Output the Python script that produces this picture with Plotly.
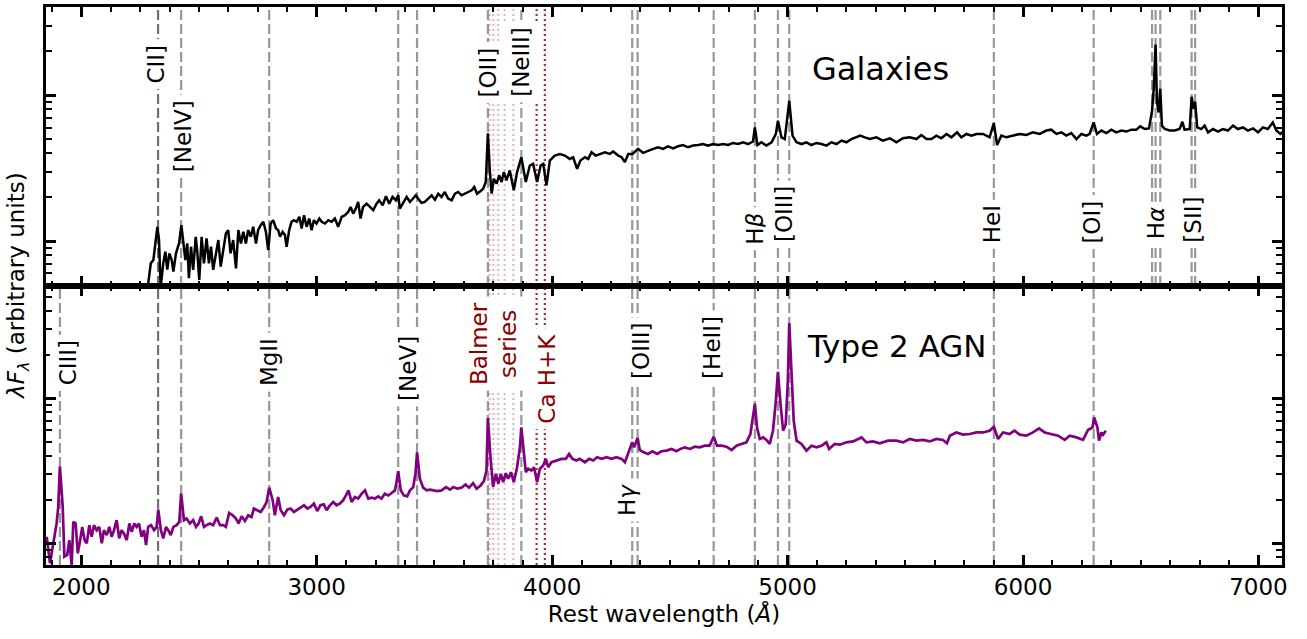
import plotly.graph_objects as go
from plotly.subplots import make_subplots

# ---- composite spectra: rest wavelength (Angstrom) and lambda*F_lambda (arbitrary units) ----
gal_wave = [
    2280, 2295, 2306, 2316, 2323, 2330, 2337, 2348, 2357, 2365,
    2374, 2384, 2391, 2402, 2415, 2425, 2433, 2442, 2450, 2457,
    2466, 2475, 2486, 2492, 2501, 2511, 2521, 2532, 2542, 2551,
    2560, 2572, 2582, 2592, 2603, 2614, 2624, 2634, 2645, 2657,
    2667, 2678, 2688, 2699, 2709, 2720, 2730, 2742, 2751, 2762,
    2773, 2784, 2794, 2804, 2815, 2827, 2836, 2844, 2855, 2865,
    2872, 2883, 2893, 2903, 2915, 2926, 2936, 2946, 2957, 2968,
    2978, 2988, 2999, 3011, 3021, 3035, 3049, 3063, 3077, 3091,
    3106, 3120, 3134, 3144, 3155, 3166, 3176, 3186, 3197, 3212,
    3226, 3240, 3254, 3265, 3280, 3294, 3308, 3322, 3336, 3346,
    3353, 3367, 3382, 3396, 3410, 3421, 3431, 3445, 3459, 3473,
    3488, 3502, 3516, 3530, 3544, 3558, 3573, 3587, 3601, 3615,
    3629, 3643, 3658, 3669, 3681, 3696, 3707, 3718, 3727, 3735,
    3743, 3752, 3764, 3775, 3785, 3795, 3806, 3820, 3837, 3851,
    3869, 3888, 3905, 3919, 3936, 3951, 3962, 3976, 3990, 4011,
    4033, 4054, 4075, 4089, 4106, 4120, 4139, 4153, 4167, 4185,
    4202, 4224, 4245, 4259, 4280, 4295, 4309, 4323, 4341, 4365,
    4386, 4408, 4429, 4450, 4471, 4492, 4514, 4535, 4556, 4577,
    4599, 4620, 4641, 4662, 4684, 4705, 4726, 4747, 4768, 4790,
    4811, 4832, 4853, 4861, 4872, 4889, 4910, 4932, 4950, 4959,
    4974, 4988, 5007, 5021, 5038, 5059, 5080, 5101, 5123, 5144,
    5165, 5186, 5208, 5229, 5250, 5271, 5292, 5309, 5328, 5349,
    5377, 5405, 5434, 5462, 5490, 5519, 5547, 5568, 5590, 5611,
    5632, 5653, 5675, 5696, 5720, 5738, 5760, 5781, 5802, 5830,
    5858, 5876, 5890, 5908, 5929, 5957, 5986, 6014, 6042, 6071,
    6099, 6120, 6142, 6163, 6184, 6205, 6227, 6248, 6269, 6283,
    6300, 6314, 6333, 6354, 6375, 6396, 6418, 6439, 6460, 6481,
    6498, 6517, 6535, 6548, 6555, 6563, 6569, 6576, 6583, 6590,
    6602, 6623, 6644, 6665, 6677, 6686, 6708, 6716, 6725, 6731,
    6740, 6757, 6771, 6786, 6807, 6828, 6849, 6870, 6892, 6913,
    6934, 6955, 6977, 6998, 7019, 7040, 7061, 7076, 7093, 7111,
]
gal_flux = [
    0.45, 0.703, 0.741, 1.070, 1.252, 1.021, 0.48, 0.703, 0.845, 0.637,
    0.823, 0.741, 0.617, 0.823, 0.963, 1.286, 1.016, 0.741, 0.963, 0.556,
    0.914, 0.634, 1.070, 0.868, 0.542, 1.070, 0.703, 1.042, 0.703, 0.914,
    0.634, 0.823, 1.016, 0.668, 0.868, 1.127, 1.189, 0.823, 1.016, 0.650,
    1.189, 0.963, 1.157, 0.963, 1.189, 1.070, 1.252, 0.963, 1.189, 1.286,
    1.355, 1.157, 0.868, 1.319, 1.391, 1.219, 1.189, 1.070, 1.157, 1.099,
    0.914, 1.189, 1.355, 1.391, 1.355, 1.465, 1.219, 1.505, 1.252, 1.427,
    1.189, 1.391, 1.319, 1.427, 1.355, 1.319, 1.391, 1.355, 1.427, 1.252,
    1.465, 1.505, 1.585, 1.714, 1.543, 1.669, 1.854, 1.427, 1.714, 1.806,
    1.714, 1.628, 1.806, 1.905, 1.761, 2.029, 1.806, 2.006, 1.905, 2.061,
    1.669, 1.806, 2.006, 1.854, 1.954, 2.061, 1.954, 1.826, 1.854, 1.954,
    2.061, 1.923, 2.113, 2.006, 2.171, 1.954, 1.905, 2.113, 2.171, 2.061,
    2.113, 2.171, 2.229, 2.348, 2.113, 2.205, 2.286, 2.540, 5.49, 3.05,
    2.113, 2.675, 2.473, 2.82, 2.540, 2.972, 2.608, 3.05, 2.229, 2.972,
    3.76, 2.540, 3.30, 3.39, 2.540, 3.30, 3.39, 2.41, 3.57, 3.86,
    3.96, 3.86, 3.66, 3.76, 3.13, 3.57, 3.76, 3.66, 4.07, 3.86,
    3.96, 4.07, 3.96, 4.12, 3.86, 3.76, 3.48, 3.96, 3.96, 4.29,
    4.03, 4.18, 4.29, 4.40, 4.29, 4.47, 4.33, 4.47, 4.56, 4.40,
    4.52, 4.56, 4.63, 4.52, 4.63, 4.56, 4.63, 4.56, 4.71, 4.63,
    4.76, 4.63, 4.82, 6.03, 4.56, 4.76, 4.52, 4.76, 5.43, 6.70,
    5.15, 5.01, 9.17, 5.29, 4.76, 4.63, 4.76, 4.56, 4.71, 4.63,
    4.52, 4.76, 4.63, 4.89, 4.76, 5.01, 5.15, 5.29, 5.15, 5.01,
    5.15, 4.89, 5.07, 4.76, 5.07, 5.15, 5.01, 5.34, 5.01, 5.01,
    5.29, 5.07, 5.43, 5.15, 5.57, 5.15, 5.43, 5.29, 5.43, 5.43,
    5.15, 6.45, 4.56, 5.29, 5.15, 5.29, 5.43, 5.34, 5.57, 5.43,
    5.73, 5.81, 5.43, 5.57, 5.29, 5.51, 5.01, 5.43, 5.29, 5.43,
    6.52, 5.43, 5.73, 5.51, 5.81, 5.57, 5.73, 5.64, 5.81, 5.81,
    6.12, 5.87, 5.93, 7.84, 11.0, 22.3, 8.93, 7.63, 11.1, 6.19,
    5.87, 5.73, 5.73, 5.87, 6.59, 5.81, 5.87, 9.77, 8.04, 9.03,
    6.03, 5.87, 6.19, 5.57, 5.87, 5.64, 5.87, 5.73, 6.19, 5.87,
    6.03, 5.73, 5.93, 5.57, 6.03, 5.87, 6.52, 5.73, 5.43, 5.75,
]

agn_wave = [
    1853, 1867, 1881, 1895, 1902, 1909, 1921, 1928, 1940, 1949,
    1959, 1966, 1976, 1985, 1994, 2004, 2014, 2023, 2034, 2044,
    2054, 2065, 2076, 2087, 2096, 2108, 2119, 2129, 2139, 2150,
    2161, 2171, 2181, 2193, 2204, 2214, 2225, 2235, 2245, 2256,
    2266, 2275, 2284, 2296, 2309, 2320, 2327, 2338, 2348, 2360,
    2369, 2380, 2391, 2405, 2416, 2424, 2436, 2447, 2461, 2475,
    2487, 2498, 2509, 2521, 2532, 2546, 2560, 2575, 2589, 2603,
    2614, 2628, 2643, 2657, 2668, 2681, 2695, 2709, 2723, 2733,
    2747, 2762, 2776, 2787, 2798, 2813, 2822, 2836, 2847, 2861,
    2875, 2889, 2903, 2917, 2932, 2946, 2960, 2974, 2988, 3002,
    3016, 3030, 3042, 3056, 3070, 3084, 3098, 3112, 3124, 3135,
    3148, 3162, 3176, 3191, 3205, 3219, 3233, 3247, 3261, 3275,
    3289, 3304, 3318, 3332, 3339, 3346, 3357, 3370, 3384, 3396,
    3410, 3420, 3426, 3438, 3452, 3467, 3481, 3495, 3512, 3530,
    3549, 3566, 3580, 3597, 3615, 3632, 3647, 3664, 3679, 3696,
    3710, 3721, 3727, 3738, 3749, 3761, 3771, 3782, 3792, 3803,
    3813, 3825, 3837, 3851, 3863, 3869, 3880, 3888, 3898, 3912,
    3923, 3936, 3948, 3962, 3973, 3983, 3997, 4019, 4040, 4058,
    4072, 4086, 4103, 4117, 4139, 4157, 4174, 4191, 4210, 4231,
    4252, 4273, 4295, 4309, 4323, 4340, 4348, 4363, 4372, 4389,
    4407, 4426, 4446, 4464, 4486, 4507, 4528, 4545, 4563, 4585,
    4606, 4627, 4648, 4669, 4686, 4700, 4719, 4740, 4762, 4783,
    4804, 4825, 4842, 4853, 4861, 4870, 4882, 4896, 4910, 4924,
    4938, 4950, 4959, 4970, 4981, 4992, 5001, 5007, 5016, 5026,
    5038, 5059, 5080, 5101, 5123, 5144, 5165, 5176, 5200, 5222,
    5250, 5278, 5314, 5335, 5363, 5391, 5427, 5462, 5490, 5519,
    5547, 5575, 5604, 5632, 5660, 5677, 5689, 5717, 5745, 5774,
    5802, 5830, 5858, 5876, 5894, 5915, 5943, 5964, 5986, 6014,
    6042, 6068, 6092, 6120, 6149, 6177, 6198, 6227, 6255, 6276,
    6295, 6302, 6316, 6323, 6333, 6340, 6352,
]
agn_flux = [
    1.110, 0.730, 1.000, 1.371, 1.781, 3.38, 1.781, 0.810, 0.832, 1.053,
    0.710, 1.406, 1.371, 0.854, 1.025, 1.299, 1.053, 1.000, 1.335, 1.110,
    1.335, 1.233, 1.299, 1.000, 1.233, 1.140, 1.299, 1.110, 1.233, 1.444,
    1.082, 1.233, 1.171, 1.053, 1.371, 1.201, 1.371, 1.299, 1.371, 1.110,
    1.233, 0.973, 1.299, 1.335, 1.233, 1.299, 1.710, 1.233, 1.082, 1.299,
    1.233, 1.140, 1.299, 1.335, 1.406, 2.20, 1.444, 1.483, 1.371, 1.444,
    1.299, 1.371, 1.538, 1.299, 1.335, 1.371, 1.335, 1.507, 1.335, 1.335,
    1.299, 1.620, 1.562, 1.483, 1.371, 1.538, 1.428, 1.562, 1.521, 1.737,
    1.690, 1.646, 1.781, 1.927, 2.419, 1.980, 1.562, 2.085, 1.690, 1.562,
    1.710, 1.737, 1.646, 1.710, 1.765, 1.830, 1.737, 1.781, 1.879, 1.672,
    1.830, 1.858, 1.690, 1.830, 1.927, 1.830, 1.879, 1.980, 2.142, 2.317,
    1.927, 2.085, 2.033, 2.20, 2.317, 2.033, 2.065, 2.033, 2.109, 2.033,
    2.20, 2.142, 2.222, 2.317, 2.642, 3.142, 2.317, 2.142, 2.109, 2.317,
    2.442, 3.092, 4.24, 2.787, 2.419, 2.317, 2.343, 2.317, 2.291, 2.317,
    2.442, 2.343, 2.442, 2.381, 2.419, 2.547, 2.419, 2.600, 2.381, 2.507,
    2.684, 3.177, 7.29, 3.92, 2.442, 3.016, 2.576, 3.016, 2.642, 3.045,
    2.787, 3.092, 2.642, 3.346, 4.587, 6.29, 3.92, 3.092, 3.264, 3.177,
    3.346, 2.642, 3.264, 3.437, 3.821, 3.346, 3.622, 3.720, 3.821, 3.821,
    4.134, 3.821, 3.720, 3.821, 3.622, 3.821, 3.720, 3.92, 3.821, 3.92,
    3.821, 3.92, 3.821, 3.622, 4.134, 4.966, 4.587, 5.32, 4.40, 4.24,
    4.134, 4.31, 4.134, 4.31, 4.355, 4.474, 4.31, 4.474, 4.587, 4.474,
    4.638, 4.587, 4.71, 4.71, 5.43, 4.71, 4.71, 4.638, 4.40, 4.71,
    4.84, 4.966, 5.67, 7.36, 9.18, 6.29, 5.24, 5.37, 5.16, 4.84,
    5.97, 9.58, 15.2, 9.10, 5.97, 6.63, 13.1, 32.9, 13.8, 6.99,
    5.10, 4.84, 4.355, 4.71, 4.587, 4.71, 4.966, 4.474, 4.84, 4.786,
    4.966, 5.04, 5.37, 4.966, 5.04, 4.89, 5.10, 5.10, 4.966, 5.24,
    5.10, 5.16, 5.04, 5.24, 5.16, 4.89, 5.52, 5.81, 5.61, 5.67,
    5.81, 5.81, 5.97, 6.36, 5.24, 5.81, 5.67, 5.97, 5.61, 5.52,
    5.81, 6.19, 5.81, 5.67, 5.52, 5.16, 5.52, 5.37, 5.16, 6.04,
    6.29, 7.36, 6.29, 5.10, 5.81, 5.61, 5.97,
]
assert len(gal_wave) == len(gal_flux)
assert len(agn_wave) == len(agn_flux)

# ---- line markers (rest wavelengths, Angstrom) ----
gal_lines = [2424, 2798, 3346, 3426, 3727, 3869, 4340, 4363, 4686, 4861,
             4959, 5007, 5876, 6300, 6548, 6563, 6583, 6716, 6731]
agn_lines = [1909, 2424, 2798, 3346, 3426, 3727, 3869, 4340, 4363, 4686,
             4861, 4959, 5007, 5876, 6300]
shared_line = 2326          # CII], marked in both panels
balmer_lines = [3734, 3750, 3771, 3798, 3835]
ca_lines = [3934, 3969]

# label text, wavelength of label centre, panel row, height in panel (0-1), colour
labels = [
    ("CII]", 2317, 1, 0.797, "black"),
    ("[NeIV]", 2432, 1, 0.537, "black"),
    ("[OII]", 3727, 1, 0.765, "black"),
    ("[NeIII]", 3870, 1, 0.802, "black"),
    ("H<i>β</i>", 4861, 1, 0.205, "black"),
    ("[OIII]", 4985, 1, 0.258, "black"),
    ("HeI", 5868, 1, 0.221, "black"),
    ("[OI]", 6292, 1, 0.230, "black"),
    ("H<i>α</i>", 6563, 1, 0.223, "black"),
    ("[SII]", 6721, 1, 0.237, "black"),
    ("CIII]", 1945, 2, 0.724, "black"),
    ("MgII", 2797, 2, 0.727, "black"),
    ("[NeV]", 3387, 2, 0.706, "black"),
    ("Balmer<br>series", 3750, 2, 0.793, "#8b0000"),
    ("Ca H+K", 3977, 2, 0.667, "#8b0000"),
    ("[OIII]", 4380, 2, 0.766, "black"),
    ("[HeII]", 4678, 2, 0.781, "black"),
    ("H<i>γ</i>", 4321, 2, 0.232, "black"),
]

FONT = "DejaVu Sans"
GRAY = "rgb(152,152,152)"
DASH = "10px,4px"

fig = make_subplots(rows=2, cols=1, shared_xaxes=True, vertical_spacing=0)

fig.add_trace(go.Scatter(x=gal_wave, y=gal_flux, mode="lines",
                         line=dict(color="black", width=2.5),
                         showlegend=False, hoverinfo="skip"), row=1, col=1)
fig.add_trace(go.Scatter(x=agn_wave, y=agn_flux, mode="lines",
                         line=dict(color="#800080", width=2.7),
                         showlegend=False, hoverinfo="skip"), row=2, col=1)


def vline(wl, row, color, width, dash):
    xr = "x" if row == 1 else "x2"
    yr = "y domain" if row == 1 else "y2 domain"
    fig.add_shape(type="line", x0=wl, x1=wl, y0=0, y1=1, xref=xr, yref=yr,
                  line=dict(color=color, width=width, dash=dash), layer="below")


for wl in gal_lines:
    vline(wl, 1, GRAY, 2.2, DASH)
for wl in agn_lines:
    vline(wl, 2, GRAY, 2.2, DASH)
for row in (1, 2):
    vline(shared_line, row, "rgb(112,112,112)", 2.2, DASH)
    for wl in balmer_lines:
        vline(wl, row, "rgba(190,90,90,0.45)", 2, "2px,3px")
    for wl in ca_lines:
        vline(wl, row, "rgb(165,50,50)", 2.2, "2px,3px")

for text, wl, row, yfrac, col in labels:
    fig.add_annotation(text=text, x=wl, y=yfrac,
                       xref="x" if row == 1 else "x2",
                       yref="y domain" if row == 1 else "y2 domain",
                       textangle=-90, showarrow=False, xanchor="center", yanchor="middle",
                       bgcolor="white", borderpad=5,
                       font=dict(family=FONT, size=23, color=col))

fig.add_annotation(text="Galaxies", x=5095, y=0.779, xref="x", yref="y domain",
                   xanchor="left", yanchor="middle", showarrow=False,
                   font=dict(family=FONT, size=32, color="black"))
fig.add_annotation(text="Type 2 AGN", x=5075, y=0.784, xref="x2", yref="y2 domain",
                   xanchor="left", yanchor="middle", showarrow=False,
                   font=dict(family=FONT, size=31, color="black"))

fig.add_annotation(text="<i>λF</i><sub><i>λ</i></sub> (arbitrary units)",
                   x=-0.0227, y=0.5, xref="paper", yref="paper", textangle=-90,
                   xanchor="center", yanchor="middle", showarrow=False,
                   font=dict(family=FONT, size=23, color="black"))

axis_frame = dict(showline=True, linecolor="black", linewidth=2.5, mirror="allticks",
                  ticks="inside", tickcolor="black", tickwidth=2.5, ticklen=10,
                  showgrid=False, zeroline=False)

fig.update_xaxes(range=[1850, 7100], tick0=0, dtick=1000,
                 minor=dict(ticks="inside", ticklen=5.5, tickwidth=1.5, tickcolor="black",
                            tick0=0, dtick=125, showgrid=False),
                 **axis_frame)
fig.update_xaxes(showticklabels=False, row=1, col=1)
fig.update_xaxes(showticklabels=True, tickfont=dict(family=FONT, size=23, color="black"),
                 title=dict(text="Rest wavelength (<i>Å</i>)", standoff=6,
                            font=dict(family=FONT, size=23, color="black")),
                 row=2, col=1)

yaxis_common = dict(type="log", dtick=1, showticklabels=False,
                    minor=dict(ticks="inside", ticklen=6, tickwidth=1.5, tickcolor="black",
                               dtick="D1", showgrid=False),
                    **axis_frame)
fig.update_yaxes(range=[-0.3085, 1.606], row=1, col=1, **yaxis_common)
fig.update_yaxes(range=[-0.149, 1.773], row=2, col=1, **yaxis_common)

fig.update_layout(width=1307, height=639,
                  margin=dict(l=46, r=25, t=4, b=74),
                  plot_bgcolor="white", paper_bgcolor="white",
                  showlegend=False,
                  font=dict(family=FONT, color="black"))

fig.write_html("out.html")
